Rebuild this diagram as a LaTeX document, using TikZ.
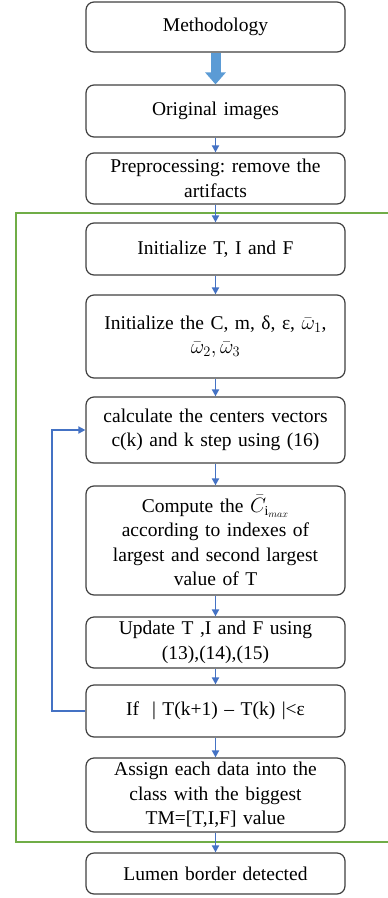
\documentclass[tikz,border=0pt]{standalone}
\usepackage{amsmath,amssymb}
\usepackage{fontspec}
\setmainfont{Liberation Serif}
\usepackage{tikz}
\usetikzlibrary{arrows.meta, positioning}
\usepackage{xcolor}
\definecolor{flowblue}{HTML}{4472C4}
\definecolor{thickblue}{HTML}{5B9BD5}
\definecolor{loopgreen}{HTML}{70AD47}
\frenchspacing

\begin{document}
\begin{tikzpicture}[
    x=1pt, y=-1pt,
    >={Triangle[length=7pt,width=7pt]},
    % Style of the step boxes
    step_box/.style={draw=black!75, line width=1.2pt, rounded corners=8pt, fill=white,
        minimum width=259pt, text width=255pt, align=center, inner sep=0pt,
        font=\fontsize{19.5}{24.5}\selectfont},
    % Connectors
    flow_arrow/.style={->, draw=flowblue, line width=1.9pt},
    big_arrow/.style={-{Triangle[length=12pt,width=20pt]}, draw=thickblue, line width=10pt},
    frame_line/.style={draw=loopgreen, line width=2.4pt}
]
    \useasboundingbox (0,0) rectangle (388,898);

    % --- 1. GREEN FRAME OF THE LOOP ---
    \draw[frame_line] (16,213) rectangle (394,842);

    % --- 2. STEP BOXES ---
    \node[step_box, minimum height=50pt]  (meth)   at (215.5,27)    {Methodology};
    \node[step_box, minimum height=52pt]  (orig)   at (215.5,111)   {Original images};
    \node[step_box, minimum height=51pt]  (prep)   at (215.5,178.5) {Preprocessing: remove the\\artifacts};
    \node[step_box, minimum height=52pt]  (init)   at (215.5,249)   {Initialize T, I and F};
    \node[step_box, minimum height=83pt]  (param)  at (215.5,336.5) {Initialize the C, m, δ, ε, $\bar{\omega}_1$,\\$\bar{\omega}_2, \bar{\omega}_3$};
    \node[step_box, minimum height=66pt]  (center) at (215.5,430)   {calculate the centers vectors\\c(k) and k step using (16)};
    \node[step_box, minimum height=109pt] (cmax)   at (215.5,540.5) {Compute the $\bar{C}_{\mathrm{i}_{max}}$\\according to indexes of\\largest and second largest\\value of T};
    \node[step_box, minimum height=51pt]  (update) at (215.5,642.5) {Update T ,I and F using\\(13),(14),(15)};
    \node[step_box, minimum height=52pt]  (test)   at (215.5,711)   {If~~| T(k+1) – T(k) |<ε};
    \node[step_box, minimum height=74pt]  (assign) at (215.5,795)   {Assign each data into the\\class with the biggest\\TM=[T,I,F] value};
    \node[step_box, minimum height=41pt]  (lumen)  at (215.5,873.5) {Lumen border detected};

    % --- 3. CONNECTORS ---
    \draw[big_arrow] (meth) -- (orig);
    \draw[flow_arrow] (orig) -- (prep);
    \draw[flow_arrow] (prep) -- (init);
    \draw[flow_arrow] (init) -- (param);
    \draw[flow_arrow] (param) -- (center);
    \draw[flow_arrow] (center) -- (cmax);
    \draw[flow_arrow] (cmax) -- (update);
    \draw[flow_arrow] (update) -- (test);
    \draw[flow_arrow] (test) -- (assign);
    \draw[flow_arrow] (assign) -- (lumen);

    % Feedback loop
    \draw[flow_arrow] (test.west) -- ++(-33,0) |- (center.west);

\end{tikzpicture}
\end{document}
